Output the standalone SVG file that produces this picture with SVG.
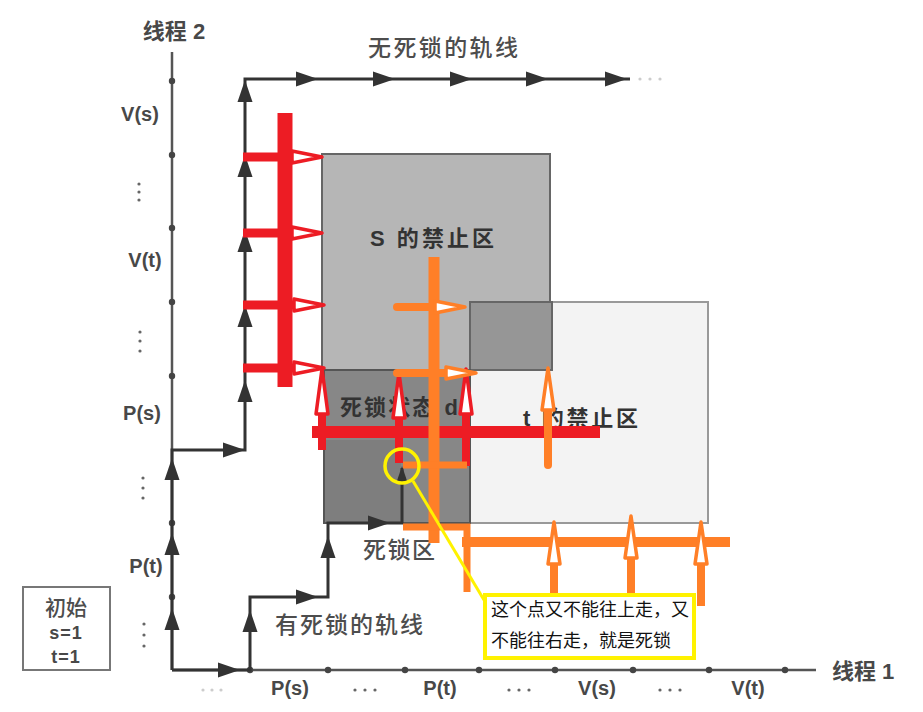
<svg xmlns="http://www.w3.org/2000/svg" width="923" height="712" viewBox="0 0 923 712">
<style>
.lb{font-family:"Liberation Sans","Noto Sans CJK SC",sans-serif;font-weight:bold;fill:#484848;font-size:20px}
.big{font-size:22px}
.cj{font-family:"Noto Sans CJK SC","Liberation Sans",sans-serif;font-weight:500;fill:#4d4d4d;font-size:23px}
.rg{font-family:"Liberation Sans","Noto Sans CJK SC",sans-serif;font-weight:bold;fill:#333;font-size:22px}
.note{font-family:"Noto Sans CJK SC","Liberation Sans",sans-serif;fill:#111;font-size:18px}
.ax{stroke:#555;stroke-width:2.5;fill:none}
.tr{stroke:#333;stroke-width:3;fill:none}
.dot{fill:#444}
.ell{fill:#666}
.red{stroke:#ed1c24;fill:none}
.org{stroke:#ff7f27;fill:none}
</style>
<defs>
<path id="ah" d="M0,0 L-22,-7.5 L-22,7.5 Z" fill="#333"/>
<path id="rh" d="M0,0 L-30,-6 L-30,6 Z" fill="#fff" stroke="#ed1c24" stroke-width="3.5" stroke-linejoin="round"/>
<path id="rv" d="M0,0 L-45,-6 L-45,6 Z" fill="#fff" stroke="#ed1c24" stroke-width="3.5" stroke-linejoin="round"/>
<path id="oh" d="M0,0 L-30,-6 L-30,6 Z" fill="#fff" stroke="#ff7f27" stroke-width="3.5" stroke-linejoin="round"/>
<path id="ov" d="M0,0 L-42,-6 L-42,6 Z" fill="#fff" stroke="#ff7f27" stroke-width="3.5" stroke-linejoin="round"/>
</defs>
<rect width="923" height="712" fill="#fff"/>

<!-- regions -->
<g id="t-region">
<rect x="470" y="302" width="238" height="221" fill="#f3f3f3" stroke="#999" stroke-width="2"/>
<text class="rg" x="523" y="426" textLength="115">t 的禁止区</text>
</g>
<g id="s-region">
<rect x="322" y="154" width="228" height="216" fill="#b6b6b6" stroke="#666" stroke-width="2"/>
<rect x="470" y="302" width="82" height="68" fill="#969696" stroke="#666" stroke-width="2"/>
<text class="rg" x="370" y="246" textLength="124">S 的禁止区</text>
</g>
<g id="dead-region">
<rect x="324" y="370" width="146" height="153" fill="#878787" stroke="#555" stroke-width="2"/>
<rect x="325" y="440" width="76" height="82" fill="#7e7e7e"/>
<text class="rg" x="340" y="415" textLength="118">死锁状态 d</text>
</g>

<!-- axes -->
<g id="axes">
<line class="ax" x1="172" y1="52" x2="172" y2="670"/>
<line class="ax" x1="172" y1="670" x2="816" y2="670"/>
<g class="dot">
<circle cx="172" cy="81" r="3.2"/><circle cx="172" cy="155" r="3.2"/><circle cx="172" cy="228" r="3.2"/><circle cx="172" cy="302" r="3.2"/><circle cx="172" cy="376" r="3.2"/><circle cx="172" cy="523" r="3.2"/><circle cx="172" cy="597" r="3.2"/>
<circle cx="250" cy="670" r="3.2"/><circle cx="328" cy="670" r="3.2"/><circle cx="405" cy="670" r="3.2"/><circle cx="479" cy="670" r="3.2"/><circle cx="555" cy="670" r="3.2"/><circle cx="633" cy="670" r="3.2"/><circle cx="709" cy="670" r="3.2"/><circle cx="785" cy="670" r="3.2"/>
</g>
<text class="lb big" x="174" y="39" text-anchor="middle">线程 2</text>
<text class="lb big" x="832" y="679">线程 1</text>
<text class="lb" x="140" y="121" text-anchor="middle">V(s)</text>
<text class="lb" x="145" y="267" text-anchor="middle">V(t)</text>
<text class="lb" x="142" y="420" text-anchor="middle">P(s)</text>
<text class="lb" x="146" y="573" text-anchor="middle">P(t)</text>
<text class="lb" x="290" y="695" text-anchor="middle">P(s)</text>
<text class="lb" x="440" y="695" text-anchor="middle">P(t)</text>
<text class="lb" x="597" y="695" text-anchor="middle">V(s)</text>
<text class="lb" x="748" y="695" text-anchor="middle">V(t)</text>
<g class="ell">
<circle cx="139" cy="184" r="1.6"/><circle cx="139" cy="192" r="1.6"/><circle cx="139" cy="200" r="1.6"/>
<circle cx="140" cy="332" r="1.6"/><circle cx="140" cy="341" r="1.6"/><circle cx="140" cy="351" r="1.6"/>
<circle cx="143" cy="478" r="1.6"/><circle cx="143" cy="488" r="1.6"/><circle cx="143" cy="498" r="1.6"/>
<circle cx="144" cy="624" r="1.6"/><circle cx="144" cy="635" r="1.6"/><circle cx="144" cy="646" r="1.6"/>
<circle cx="355" cy="690" r="1.6"/><circle cx="365" cy="690" r="1.6"/><circle cx="375" cy="690" r="1.6"/>
<circle cx="509" cy="690" r="1.6"/><circle cx="519" cy="690" r="1.6"/><circle cx="529" cy="690" r="1.6"/>
<circle cx="660" cy="690" r="1.6"/><circle cx="670" cy="690" r="1.6"/><circle cx="680" cy="690" r="1.6"/>
</g>
<g fill="#ccc">
<circle cx="203" cy="690" r="1.6"/><circle cx="212" cy="690" r="1.6"/><circle cx="221" cy="690" r="1.6"/>
<circle cx="640" cy="79" r="1.6"/><circle cx="650" cy="79" r="1.6"/><circle cx="660" cy="79" r="1.6"/>
</g>
</g>

<!-- initial box -->
<g id="init">
<rect x="23" y="587" width="87" height="83" fill="#fff" stroke="#777" stroke-width="2"/>
<text class="cj" x="66" y="615" text-anchor="middle" style="font-size:21px">初始</text>
<text class="lb" x="66" y="639" text-anchor="middle" style="font-size:18px" letter-spacing="1">s=1</text>
<text class="lb" x="66" y="663" text-anchor="middle" style="font-size:18px" letter-spacing="1">t=1</text>
</g>

<!-- trajectories -->
<g id="connectors">
<path class="tr" d="M172,670 V450 H245 V79 H630"/>
<use href="#ah" transform="translate(172,608) rotate(-90)"/>
<use href="#ah" transform="translate(172,533) rotate(-90)"/>
<use href="#ah" transform="translate(172,458) rotate(-90)"/>
<use href="#ah" transform="translate(245,450)"/>
<use href="#ah" transform="translate(245,380) rotate(-90)"/>
<use href="#ah" transform="translate(245,305) rotate(-90)"/>
<use href="#ah" transform="translate(245,230) rotate(-90)"/>
<use href="#ah" transform="translate(245,155) rotate(-90)"/>
<use href="#ah" transform="translate(245,80) rotate(-90)"/>
<use href="#ah" transform="translate(318,79)"/>
<use href="#ah" transform="translate(395,79)"/>
<use href="#ah" transform="translate(472,79)"/>
<use href="#ah" transform="translate(548,79)"/>
<use href="#ah" transform="translate(627,79)"/>
<path class="tr" d="M172,670 H250 V597 H328 V523 H402 V468"/>
<use href="#ah" transform="translate(240,670)"/>
<use href="#ah" transform="translate(250,610) rotate(-90)"/>
<use href="#ah" transform="translate(318,597)"/>
<use href="#ah" transform="translate(328,536) rotate(-90)"/>
<use href="#ah" transform="translate(390,523)"/>
<use href="#ah" transform="translate(402,466) rotate(-90) scale(0.7)"/>
</g>
<g id="traj-labels">
<text class="cj" x="368" y="56" textLength="150">无死锁的轨线</text>
<text class="cj" x="275" y="633" textLength="148">有死锁的轨线</text>
<text class="cj" x="363" y="558" textLength="72">死锁区</text>
</g>

<!-- red annotations -->
<g id="red-marks">
<line class="red" x1="285" y1="113" x2="285" y2="387" stroke-width="15"/>
<line class="red" x1="243" y1="157" x2="296" y2="157" stroke-width="9"/>
<use href="#rh" transform="translate(322,157)"/>
<line class="red" x1="243" y1="233" x2="296" y2="233" stroke-width="9"/>
<use href="#rh" transform="translate(322,233)"/>
<line class="red" x1="243" y1="305" x2="296" y2="305" stroke-width="9"/>
<use href="#rh" transform="translate(324,305)"/>
<line class="red" x1="243" y1="368" x2="296" y2="368" stroke-width="9"/>
<use href="#rh" transform="translate(324,368)"/>
<line class="red" x1="312" y1="432" x2="600" y2="432" stroke-width="12"/>
<line class="red" x1="322" y1="412" x2="322" y2="450" stroke-width="8"/>
<use href="#rv" transform="translate(322,369) rotate(-90)"/>
<line class="red" x1="399" y1="416" x2="399" y2="463" stroke-width="8"/>
<use href="#rv" transform="translate(399,373) rotate(-90)"/>
<line class="red" x1="466" y1="412" x2="466" y2="466" stroke-width="8"/>
<use href="#rv" transform="translate(466,369) rotate(-90)"/>
</g>

<!-- orange annotations -->
<g id="orange-marks">
<line class="org" x1="434" y1="257" x2="434" y2="543" stroke-width="11"/>
<line class="org" x1="397" y1="307" x2="440" y2="307" stroke-width="8" stroke-linecap="round"/>
<use href="#oh" transform="translate(465,307)"/>
<line class="org" x1="397" y1="373" x2="450" y2="373" stroke-width="8" stroke-linecap="round"/>
<use href="#oh" transform="translate(476,373)"/>
<line class="org" x1="403" y1="465" x2="467" y2="465" stroke-width="7"/>
<path class="org" d="M403,527 H467 V592" stroke-width="7"/>
<line class="org" x1="462" y1="542" x2="730" y2="542" stroke-width="10"/>
<line class="org" x1="548" y1="410" x2="548" y2="465" stroke-width="8" stroke-linecap="round"/>
<use href="#ov" transform="translate(548,368) rotate(-90)"/>
<line class="org" x1="554" y1="560" x2="554" y2="597" stroke-width="8"/>
<use href="#ov" transform="translate(554,522) rotate(-90)"/>
<line class="org" x1="631" y1="556" x2="631" y2="603" stroke-width="8"/>
<use href="#ov" transform="translate(631,516) rotate(-90)"/>
<line class="org" x1="701" y1="562" x2="701" y2="606" stroke-width="8"/>
<use href="#ov" transform="translate(701,522) rotate(-90)"/>
</g>

<!-- yellow callout -->
<g id="callout">
<circle cx="402" cy="466" r="17" fill="none" stroke="#fff200" stroke-width="3.5"/>
<line x1="413" y1="481" x2="484" y2="600" stroke="#fff200" stroke-width="3"/>
<rect x="485" y="595" width="209" height="63" fill="#fff" stroke="#fff200" stroke-width="4"/>
<text class="note" x="491" y="616">这个点又不能往上走，又</text>
<text class="note" x="491" y="647">不能往右走，就是死锁</text>
</g>
</svg>
